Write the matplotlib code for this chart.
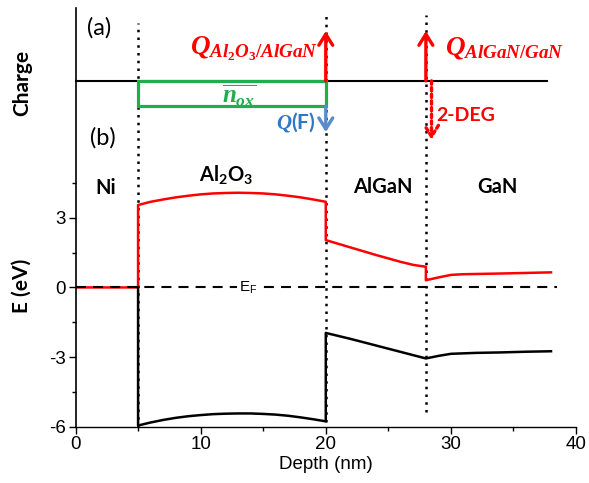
import matplotlib
matplotlib.use("Agg")
import matplotlib.pyplot as plt
from matplotlib.patches import Rectangle

plt.rcParams.update({
    "font.family": "Liberation Sans",
    "axes.unicode_minus": False,
    "mathtext.fontset": "custom",
    "mathtext.it": "Liberation Serif:italic:bold",
    "mathtext.rm": "Liberation Serif:bold",
    "mathtext.sf": "Lato:bold",
    "mathtext.tt": "Liberation Sans",
})

# Band diagram (b): conduction band (red) and valence band (black), eV vs nm
cb_depth = [0, 5, 5, 6, 7, 8, 9, 10, 11, 12, 13, 14, 15, 16, 17, 18, 19, 20,
            20, 22, 24, 26, 27, 28, 28, 29, 30, 31, 34, 38]
cb_energy = [0, 0, 3.55, 3.69, 3.79, 3.88, 3.95, 4.01, 4.05, 4.07, 4.08, 4.07,
             4.05, 4.01, 3.95, 3.88, 3.79, 3.69,
             2.04, 1.72, 1.40, 1.10, 0.97, 0.89, 0.31, 0.43, 0.54, 0.57, 0.60, 0.65]

vb_depth = [5, 5, 6, 7, 8, 9, 10, 11, 12, 13, 14, 15, 16, 17, 18, 19, 20,
            20, 22, 24, 26, 28, 29, 30, 32, 34, 36, 38]
vb_energy = [0, -5.95, -5.82, -5.71, -5.62, -5.55, -5.50, -5.46, -5.44, -5.43,
             -5.43, -5.45, -5.48, -5.53, -5.60, -5.68, -5.77,
             -1.96, -2.22, -2.50, -2.78, -3.06, -2.95, -2.86, -2.82, -2.80,
             -2.77, -2.75]

fermi_depth = [0, 38.5]
fermi_energy = [0, 0]

interfaces = [5, 20, 28]
interface_bottom = [-6.0, -5.8, -5.35]
interface_top = [11.39, 11.74, 11.74]

layer_names = ["Ni", r"$\mathsf{Al_2O_3}$", "AlGaN", "GaN"]
layer_x = [2.4, 12.0, 24.6, 33.7]
layer_y = [4.28, 4.84, 4.32, 4.32]

# Charge sketch (a), drawn above the band diagram on the same depth axis
charge_level = 8.9
charge_end = 37.7
nox_bottom = 7.81
q_top = 11.05
qf_bottom = 6.69
deg_bottom = 6.37

fig = plt.figure(figsize=(5.89, 4.83), dpi=100)
ax = fig.add_axes([0.1282, 0.1166, 0.8498, 0.8668])
ax.set_xlim(0, 40)
ax.set_ylim(-6, 12.04)

for x, y0, y1 in zip(interfaces, interface_bottom, interface_top):
    ax.plot([x, x], [y0, y1], color="black", lw=1.8, ls=(0, (1, 2.1)),
            clip_on=False, zorder=1)

ax.plot(cb_depth, cb_energy, color="red", lw=1.8, zorder=2)
ax.plot(vb_depth, vb_energy, color="black", lw=1.8, zorder=2)
ax.plot(fermi_depth, fermi_energy, color="black", lw=1.5,
        ls=(0, (4.8, 3.4)), zorder=3, clip_on=False)
ax.text(13.8, 0.0, r"$\mathtt{E_F}$", fontsize=11, ha="center", va="center",
        zorder=4, bbox=dict(fc="white", ec="none", pad=1.5))

for name, x, y in zip(layer_names, layer_x, layer_y):
    ax.text(x, y, name, fontsize=14.5, family="Lato", weight="bold",
            ha="center", va="center")

# charge panel
ax.plot([0, charge_end], [charge_level, charge_level], color="black", lw=1.5,
        clip_on=False, zorder=2)
ax.add_patch(Rectangle((interfaces[0], nox_bottom), interfaces[1] - interfaces[0],
                       charge_level - nox_bottom, fill=False, ec="#1fae4b",
                       lw=2.3, zorder=3))
ax.text(13.05, 8.27, r"$\overline{n_{ox}}$", color="#1fae4b", fontsize=18,
        ha="center", va="center")

arrow = dict(arrowstyle="->,head_length=0.4,head_width=0.25", lw=2.4,
             shrinkA=0, shrinkB=0, mutation_scale=20)
ax.annotate("", xy=(20, q_top), xytext=(20, charge_level),
            arrowprops=dict(arrow, color="red"), annotation_clip=False)
ax.annotate("", xy=(28, q_top), xytext=(28, charge_level),
            arrowprops=dict(arrow, color="red"), annotation_clip=False)
ax.annotate("", xy=(28.45, deg_bottom), xytext=(28.45, charge_level),
            arrowprops=dict(arrow, color="red", ls=(0, (1, 1))),
            annotation_clip=False)
ax.annotate("", xy=(20, qf_bottom), xytext=(20, nox_bottom),
            arrowprops=dict(arrow, color="#5b8bc8"), annotation_clip=False)

ax.text(19.4, 10.3, r"$Q_{Al_{\mathit{2}}O_{\mathit{3}}/AlGaN}$", color="red",
        fontsize=19.5, ha="right", va="center")
ax.text(29.5, 10.3, r"$Q_{AlGaN/GaN}$", color="red", fontsize=19.5,
        ha="left", va="center")
ax.text(19.2, 7.12, r"$Q$(F)", color="#2e78c8", fontsize=15, family="Lato",
        weight="bold", ha="right", va="center")
ax.text(28.85, 7.42, "2-DEG", color="red", fontsize=14, family="Lato",
        weight="bold", ha="left", va="center")

ax.text(1.9, 11.2, "(a)", fontsize=17, family="Lato", ha="center", va="center")
ax.text(2.2, 6.43, "(b)", fontsize=17, family="Lato", ha="center", va="center")

ax.set_xticks([0, 10, 20, 30, 40])
ax.set_xticks([5, 15, 25, 35], minor=True)
ax.set_yticks([-6, -3, 0, 3])
ax.set_yticks([-4.5, -1.5, 1.5, 4.5], minor=True)
ax.tick_params(which="major", direction="out", length=5, width=1,
               labelsize=13.5, pad=2)
ax.tick_params(which="minor", direction="out", length=3, width=1)
ax.spines["top"].set_visible(False)
ax.spines["right"].set_visible(False)
ax.spines["left"].set_linewidth(1.2)
ax.spines["bottom"].set_linewidth(1.0)
ax.set_xlabel("Depth (nm)", fontsize=13.5, labelpad=2)

fig.text(22 / 589, 1 - 286 / 483, "E (eV)", rotation=90, fontsize=15,
         family="Lato", weight="bold", ha="center", va="center")
fig.text(22 / 589, 1 - 83 / 483, "Charge", rotation=90, fontsize=15,
         family="Lato", weight="bold", ha="center", va="center")

fig.savefig("out.png", dpi=100)
